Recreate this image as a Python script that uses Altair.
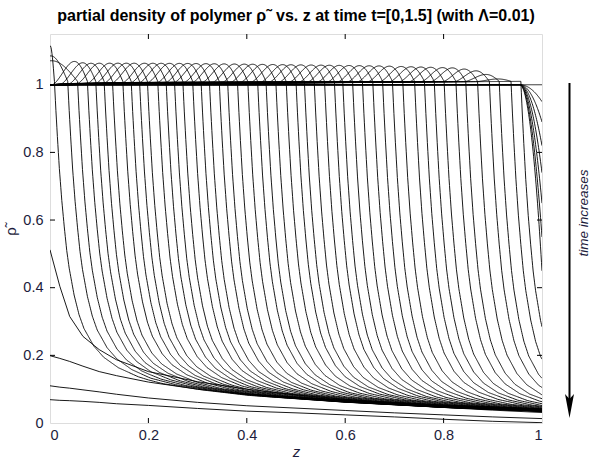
import altair as alt
import numpy as np
import pandas as pd

# ---- values ----
# z where each moving-front curve crosses rho ~ 0.66 (left = late, right = early)
front_cross = [0.023, 0.050, 0.070, 0.090, 0.107, 0.124, 0.141, 0.162, 0.179, 0.196,
               0.212, 0.233, 0.250, 0.267, 0.284, 0.304, 0.321, 0.338, 0.358, 0.375,
               0.395, 0.416, 0.436, 0.453, 0.473, 0.494, 0.514, 0.531, 0.551, 0.572,
               0.592, 0.609, 0.629, 0.649, 0.670, 0.690, 0.710, 0.731, 0.755, 0.775,
               0.795, 0.815, 0.839, 0.859, 0.883, 0.907, 0.927, 0.951, 0.971]
cross_offset = 0.014           # distance from front top to the 0.66 crossing

# shape of the falling front (distance from front, normalised height)
front_dz = [0, 0.003, 0.006, 0.01, 0.015, 0.02, 0.025, 0.03, 0.04, 0.05, 0.06,
            0.08, 0.1, 0.13, 0.17, 0.22, 0.3, 0.4, 5.0]
front_h = [1, 0.9, 0.81, 0.7, 0.59, 0.5, 0.42, 0.36, 0.27, 0.205, 0.16,
           0.105, 0.072, 0.044, 0.024, 0.011, 0.003, 0, 0]

# low tail level behind the fronts
tail_z = [0, 0.2, 0.4, 0.6, 0.8, 1.0]
tail_v = [0.19, 0.135, 0.1, 0.075, 0.056, 0.042]
tail_scale = [0.82, 1.0]       # late, early

# hump height above 1 versus front position
bump_f = [0.0, 0.01, 0.036, 0.057, 0.077, 0.1, 0.3, 0.5, 0.7, 0.85, 0.89, 0.92, 0.95, 1.0]
bump_v = [0.115, 0.115, 0.085, 0.07, 0.062, 0.056, 0.054, 0.05, 0.046, 0.04, 0.033, 0.017, 0.0, 0.0]
bump_width = 0.07

# first curves: dip growing at z = 1 (value reached at z = 1)
fan_end = [1.0, 0.95, 0.89, 0.82, 0.74, 0.65, 0.55, 0.45]
fan_start = 0.955

# last curves (whole profile below 1)
late_z = [0, 0.02, 0.04, 0.067, 0.1, 0.135, 0.2, 0.3, 0.4, 0.5, 0.6, 0.7, 0.8, 0.9, 1.0]
late_a = [0.512, 0.404, 0.315, 0.256, 0.217, 0.187, 0.152, 0.122, 0.1, 0.083, 0.07, 0.06, 0.05, 0.042, 0.035]
late_b = [0.199, 0.191, 0.182, 0.168, 0.152, 0.14, 0.121, 0.100, 0.086, 0.074, 0.064, 0.055, 0.046, 0.038, 0.031]
late_c = [0.110, 0.106, 0.103, 0.098, 0.092, 0.085, 0.074, 0.061, 0.051, 0.044, 0.037, 0.030, 0.024, 0.018, 0.013]
late_d = [0.069, 0.067, 0.066, 0.064, 0.061, 0.057, 0.052, 0.043, 0.035, 0.030, 0.024, 0.018, 0.011, 0.005, 0.001]

x_ticks = [0, 0.2, 0.4, 0.6, 0.8, 1.0]
y_ticks = [0, 0.2, 0.4, 0.6, 0.8, 1.0]

# ---- build table ----
rows = []
cid = 0
for e in fan_end:
    zz = np.unique(np.concatenate([np.linspace(0, 1, 101), np.linspace(0.95, 1, 51)]))
    u = np.clip((zz - fan_start) / (1 - fan_start), 0, 1)
    rr = 1 - (1 - e) * u ** 2
    rows.append(pd.DataFrame({"z": zz, "rho": rr, "curve": cid}))
    cid += 1

n = len(front_cross)
for i, c in enumerate(reversed(front_cross)):
    f = c - cross_offset
    s = tail_scale[1] + (tail_scale[0] - tail_scale[1]) * i / (n - 1)
    zz = np.unique(np.concatenate([np.linspace(0, 1, 201),
                                   np.clip(np.linspace(f - 0.08, f + 0.15, 231), 0, 1)]))
    B = np.interp(f, bump_f, bump_v)
    top = 1.01
    rr = np.empty_like(zz)
    for j, z in enumerate(zz):
        if z <= f:
            base = 1.0 + 0.01 * (z / f if f > 0 else 1)
            if f >= bump_width:
                u = (z - f + bump_width) / bump_width
                add = B * np.sin(np.pi * u ** 1.4) if u > 0 else 0.0
            else:
                add = B * np.cos(0.5 * np.pi * z / f)
            rr[j] = base + add
        else:
            e = s * np.interp(z, tail_z, tail_v)
            rr[j] = e + (top - e) * np.interp(z - f, front_dz, front_h)
    rows.append(pd.DataFrame({"z": zz, "rho": rr, "curve": cid}))
    cid += 1

for arr in (late_a, late_b, late_c, late_d):
    rows.append(pd.DataFrame({"z": late_z, "rho": arr, "curve": cid}))
    cid += 1

df = pd.concat(rows, ignore_index=True)

W, H = 492, 389
FONT = "Liberation Sans"
LAB = "#1c1c3c"

xs = alt.Scale(domain=[0, 1], nice=False, zero=False)
ys = alt.Scale(domain=[0, 1.15], nice=False, zero=False)

lines = alt.Chart(df).mark_line(color="black", strokeWidth=0.9, clip=True).encode(
    x=alt.X("z:Q", scale=xs,
            axis=alt.Axis(values=x_ticks, format="~g", ticks=False, domain=False, grid=False,
                          labelPadding=5, labelFontSize=14.5, labelFont=FONT, labelColor=LAB,
                          title="z", titleFontStyle="italic", titleFontWeight="normal",
                          titleFontSize=15, titleFont=FONT, titleColor=LAB, titlePadding=3)),
    y=alt.Y("rho:Q", scale=ys,
            axis=alt.Axis(values=y_ticks, format="~g", ticks=False, domain=False, grid=False,
                          labelPadding=7, labelFontSize=14.5, labelFont=FONT, labelColor=LAB,
                          title="ρ˜", titleFontWeight="normal", titleFontSize=15,
                          titleFont=FONT, titleColor=LAB, titlePadding=4)),
    detail="curve:N",
)

xt = pd.DataFrame({"v": x_ticks[1:-1]})
yt = pd.DataFrame({"v": y_ticks[1:-1]})
tk = 5
ticks = [
    alt.Chart(xt).mark_rule(color="black", strokeWidth=1).encode(
        x=alt.X("v:Q", scale=xs), y=alt.value(H), y2=alt.value(H - tk)),
    alt.Chart(xt).mark_rule(color="black", strokeWidth=1).encode(
        x=alt.X("v:Q", scale=xs), y=alt.value(0), y2=alt.value(tk)),
    alt.Chart(yt).mark_rule(color="black", strokeWidth=1).encode(
        y=alt.Y("v:Q", scale=ys), x=alt.value(0), x2=alt.value(tk)),
    alt.Chart(yt).mark_rule(color="black", strokeWidth=1).encode(
        y=alt.Y("v:Q", scale=ys), x=alt.value(W), x2=alt.value(W - tk)),
]

one = pd.DataFrame({"a": [0]})
arrow_line = alt.Chart(one).mark_rule(color="black", strokeWidth=2).encode(
    x=alt.value(519.5), y=alt.value(49), y2=alt.value(370))
arrow_head = alt.Chart(one).mark_point(
    shape="M -0.45 -1.2 L 0 1.2 L 0.45 -1.2 L 0 -0.7 Z", filled=True, color="black",
    size=400, opacity=1, strokeWidth=0).encode(x=alt.value(519.5), y=alt.value(372))
note = alt.Chart(one).mark_text(
    text="time increases", angle=270, fontStyle="italic", fontSize=13.5, font=FONT,
    color=LAB, align="center", baseline="middle").encode(x=alt.value(534), y=alt.value(179))

chart = alt.layer(lines, *ticks, arrow_line, arrow_head, note).properties(
    width=W, height=H,
    title=alt.TitleParams("partial density of polymer ρ˜ vs. z at time t=[0,1.5] (with Λ=0.01)",
                          fontSize=16, fontWeight="bold", font=FONT, color="black",
                          anchor="middle", offset=10),
    autosize=alt.AutoSizeParams(type="none"),
    padding={"left": 50, "top": 34, "right": 50, "bottom": 41},
).configure_view(stroke="black", strokeWidth=1).configure(background="white")

chart.save("out.html", embed_options={"renderer": "svg", "actions": False})
